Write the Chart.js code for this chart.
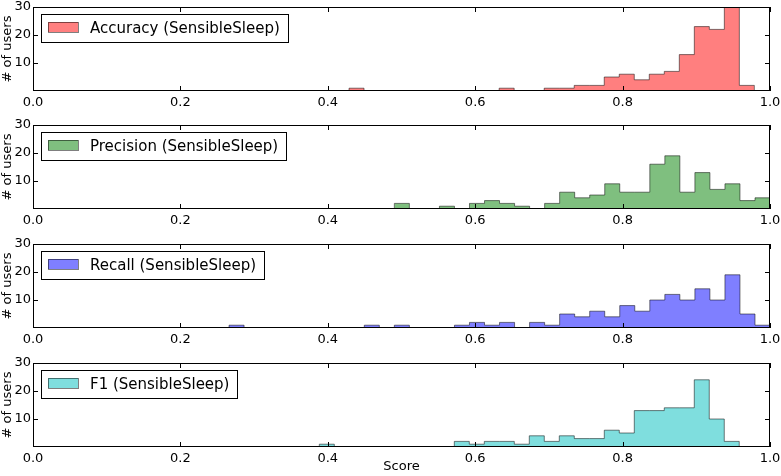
<!DOCTYPE html>
<html>
<head>
<meta charset="utf-8">
<script src="https://cdn.jsdelivr.net/npm/chart.js@4.4.0/dist/chart.umd.min.js"></script>
<style>
  html, body { margin: 0; padding: 0; background: #fff; }
  #wrap { position: relative; width: 781px; height: 476px; }
  canvas { position: absolute; left: 0; }
</style>
</head>
<body>
<div id="wrap">
  <canvas id="c0" width="781" height="118" style="top:0px"></canvas>
  <canvas id="c1" width="781" height="118" style="top:118px"></canvas>
  <canvas id="c2" width="781" height="118" style="top:237px"></canvas>
  <canvas id="c3" width="781" height="120" style="top:356px"></canvas>
</div>
<script>
// histogram counts per bin (# of users)
const seriesNames = ['Accuracy (SensibleSleep)', 'Precision (SensibleSleep)', 'Recall (SensibleSleep)', 'F1 (SensibleSleep)'];
const binStart = [0.4288, 0.4903, 0.2660, 0.3885];
const binWidth = [0.02037, 0.02039, 0.02039, 0.02035];

const accuracy  = [1,0,0,0,0,0,0,0,0,0,1,0,0,1,1,2,2,5,6,4,6,7,13,23,22,30,2];
const precision = [2,0,0,1,0,2,3,2,1,0,2,6,4,5,9,6,6,16,19,6,13,7,9,3,4];
const recall    = [1,0,0,0,0,0,0,0,0,1,0,1,0,0,0,1,2,1,2,0,2,1,5,4,6,4,8,6,10,12,10,14,10,19,5,1];
const f1        = [1,0,0,0,0,0,0,0,0,2,1,2,2,1,4,2,4,3,3,6,5,13,13,14,14,24,10,2];

const xTicks = [0.0, 0.2, 0.4, 0.6, 0.8, 1.0];
const yTicks = [10, 20, 30];

const fills = ['#ff7f7f', '#7fbf7f', '#7f7fff', '#7fdede'];
const edge = 'rgba(0,0,0,0.5)';
const FONT = 'DejaVu Sans';

// turn bin counts into step outline points
function stepPoints(counts, start, w) {
  const pts = [{x: start, y: 0}];
  counts.forEach((c, i) => pts.push({x: start + i * w, y: c}));
  pts.push({x: start + counts.length * w, y: 0});
  return pts;
}

const framePlugin = {
  id: 'frame',
  afterDatasetsDraw(chart) {
    const ctx = chart.ctx;
    const a = chart.chartArea;
    const xs = chart.scales.x, ys = chart.scales.y;
    ctx.save();
    ctx.strokeStyle = '#000';
    ctx.lineWidth = 1;
    // inward ticks on all sides
    ctx.beginPath();
    xTicks.forEach(v => {
      const px = Math.round(xs.getPixelForValue(v)) + 0.5;
      ctx.moveTo(px, a.bottom); ctx.lineTo(px, a.bottom - 5);
      ctx.moveTo(px, a.top); ctx.lineTo(px, a.top + 5);
    });
    yTicks.forEach(v => {
      const py = Math.round(ys.getPixelForValue(v)) + 0.5;
      ctx.moveTo(a.left, py); ctx.lineTo(a.left + 5, py);
      ctx.moveTo(a.right, py); ctx.lineTo(a.right - 5, py);
    });
    ctx.stroke();
    ctx.strokeRect(Math.round(a.left) + 0.5, Math.round(a.top) + 0.5,
                   Math.round(a.right - a.left) - 1, Math.round(a.bottom - a.top) - 1);

    // legend box
    const ds = chart.data.datasets[0];
    ctx.font = '15px "' + FONT + '"';
    const tw = ctx.measureText(ds.label).width;
    const bx = Math.round(a.left) + 8, by = Math.round(a.top) + 7;
    const bw = Math.round(49 + tw + 8), bh = 28;
    ctx.fillStyle = '#fff';
    ctx.fillRect(bx, by, bw, bh);
    ctx.strokeStyle = '#000';
    ctx.strokeRect(bx + 0.5, by + 0.5, bw, bh);
    ctx.fillStyle = ds.backgroundColor;
    ctx.fillRect(bx + 7, by + 8, 30, 10);
    ctx.strokeStyle = edge;
    ctx.strokeRect(bx + 7.5, by + 8.5, 30, 10);
    ctx.fillStyle = '#000';
    ctx.textBaseline = 'middle';
    ctx.textAlign = 'left';
    ctx.fillText(ds.label, bx + 49, by + bh / 2 + 1);
    ctx.restore();
  }
};

const allCounts = [accuracy, precision, recall, f1];

allCounts.forEach((counts, k) => {
  const canvas = document.getElementById('c' + k);
  const H = canvas.height;
  const last = k === allCounts.length - 1;
  new Chart(canvas, {
    type: 'line',
    data: {
      datasets: [{
        label: seriesNames[k],
        data: stepPoints(counts, binStart[k], binWidth[k]),
        stepped: true,
        fill: 'origin',
        backgroundColor: fills[k],
        borderColor: edge,
        borderWidth: 1,
        pointRadius: 0,
        tension: 0
      }]
    },
    options: {
      responsive: false,
      animation: false,
      events: [],
      layout: { padding: { top: 7, right: 11, left: 0, bottom: 0 } },
      plugins: { legend: { display: false }, tooltip: { enabled: false } },
      scales: {
        x: {
          type: 'linear', min: 0, max: 1,
          grid: { display: false, drawTicks: false },
          border: { display: false },
          afterBuildTicks: s => { s.ticks = xTicks.map(v => ({value: v})); },
          afterFit: s => { s.height = H - 91; s.paddingLeft = 0; s.paddingRight = 0; },
          ticks: {
            autoSkip: false, maxRotation: 0, padding: 4, color: '#000',
            font: { family: FONT, size: 13 },
            callback: v => v.toFixed(1)
          },
          title: {
            display: last, text: 'Score', color: '#000',
            font: { family: FONT, size: 13 }, padding: { top: 0, bottom: 2 }
          }
        },
        y: {
          min: 0, max: 30,
          grid: { display: false, drawTicks: false },
          border: { display: false },
          afterBuildTicks: s => { s.ticks = yTicks.map(v => ({value: v})); },
          afterFit: s => { s.width = 33; s.paddingTop = 0; s.paddingBottom = 0; },
          ticks: {
            autoSkip: false, padding: 2, color: '#000',
            font: { family: FONT, size: 13 }
          },
          title: {
            display: true, text: '# of users', color: '#000',
            font: { family: FONT, size: 13 }, padding: 0
          }
        }
      }
    },
    plugins: [framePlugin]
  });
});
</script>
</body>
</html>
